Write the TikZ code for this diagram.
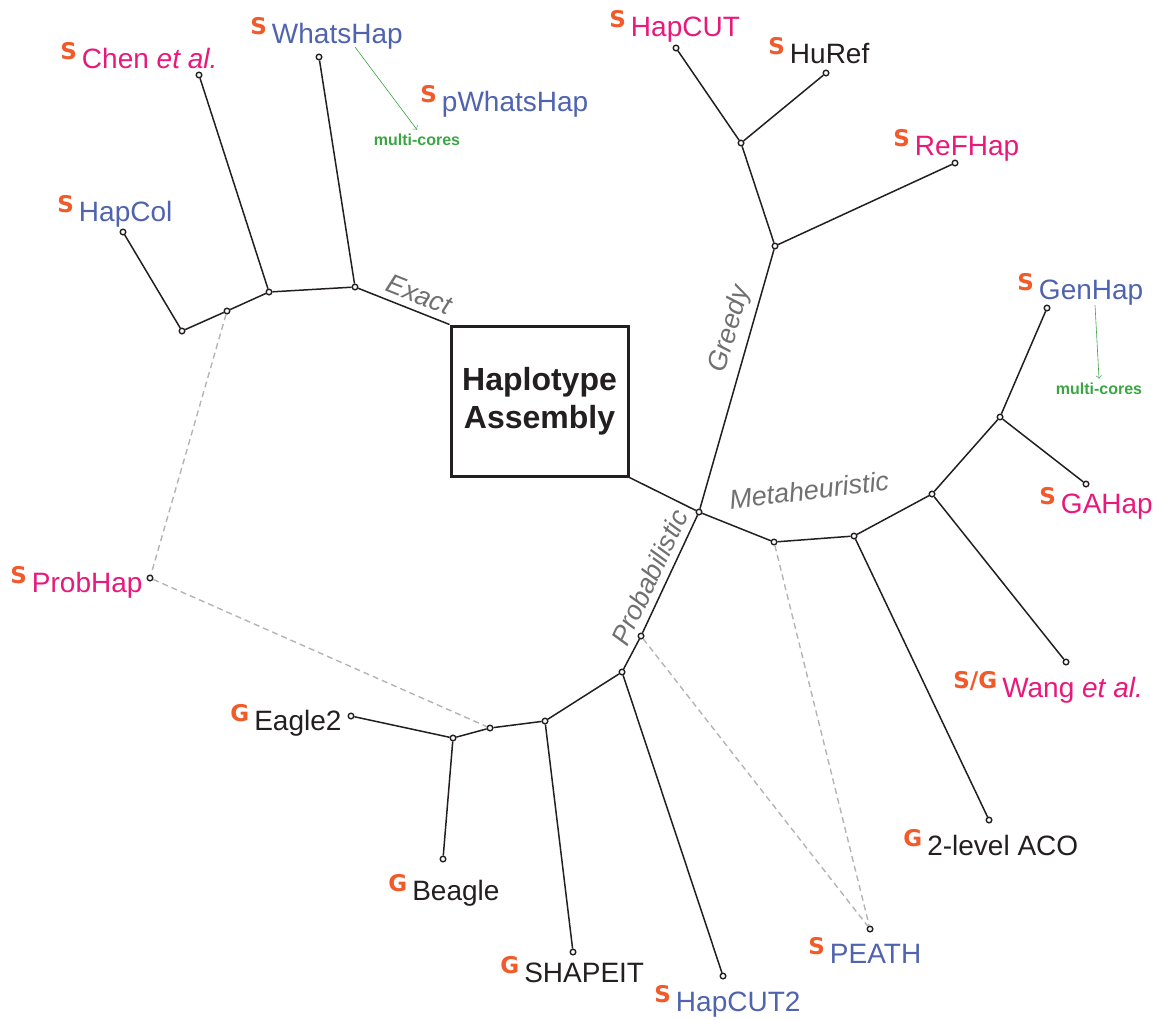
\documentclass[tikz,border=0pt]{standalone}
\usepackage{fontspec}
\setmainfont{Liberation Sans}
\newfontfamily\srcfont{DejaVu Sans}
\definecolor{srcorange}{HTML}{F15A29}
\definecolor{toolpink}{HTML}{E8197A}
\definecolor{toolblue}{HTML}{4F63AF}
\definecolor{toolblack}{HTML}{231F20}
\definecolor{methodgray}{HTML}{707070}
\definecolor{linkgray}{HTML}{B4B4B4}
\definecolor{coregreen}{HTML}{3BA544}
\newcommand{\srcmark}[1]{\raisebox{4.5pt}{\fontsize{11.5}{11.5}\selectfont\srcfont\bfseries\color{srcorange}#1}\hspace{2.5pt}}
\tikzset{
  junction/.style={circle, draw=toolblack, fill=white, inner sep=0pt, minimum size=2.8pt, line width=0.7pt},
  branch/.style={line width=0.75pt, toolblack},
  crosslink/.style={line width=0.7pt, linkgray, dash pattern=on 3pt off 2pt},
  toolname/.style={anchor=base west, inner sep=0pt, font=\fontsize{14}{16}\selectfont},
  methodfont/.style={font=\fontsize{13.5}{15}\selectfont\itshape, text=methodgray},
  methodlabel/.style={methodfont, sloped, above},
  cores/.style={font=\fontsize{8}{9}\selectfont\bfseries, text=coregreen, inner sep=2pt},
  corearrow/.style={->, coregreen, line width=0.3pt},
}
\begin{document}
\begin{tikzpicture}[x=0.5pt, y=-0.5pt]
\useasboundingbox (0,0) rectangle (1159,1019);
% root
\node[draw=toolblack, line width=1.5pt, minimum width=88.5pt, minimum height=75pt, align=center,
  font=\fontsize{16}{19}\selectfont\bfseries, text=toolblack] (root) at (539.5,401) {Haplotype\\Assembly};
% branch points
\node[junction] (c) at (699,512) {};
\node[junction] (e1) at (355,287) {};
\node[junction] (e2) at (269,292) {};
\node[junction] (e3) at (227,311) {};
\node[junction] (e4) at (182,331) {};
\node[junction] (g1) at (775,246) {};
\node[junction] (g2) at (741,143) {};
\node[junction] (m1) at (774,542) {};
\node[junction] (m2) at (854,536) {};
\node[junction] (m3) at (932,494) {};
\node[junction] (m4) at (1000,417) {};
\node[junction] (p1) at (641,636) {};
\node[junction] (p2) at (622,672) {};
\node[junction] (p3) at (545,721) {};
\node[junction] (p4) at (490,728) {};
\node[junction] (p5) at (453,738) {};
% leaves
\node[junction] (whatshap) at (319,57) {};
\node[junction] (chen) at (199,75) {};
\node[junction] (hapcol) at (123,232) {};
\node[junction] (probhap) at (150,578) {};
\node[junction] (hapcut) at (676,48) {};
\node[junction] (huref) at (826,73) {};
\node[junction] (refhap) at (955,163) {};
\node[junction] (genhap) at (1047,308) {};
\node[junction] (gahap) at (1086,484) {};
\node[junction] (wang) at (1066,662) {};
\node[junction] (aco) at (989,820) {};
\node[junction] (peath) at (870,929) {};
\node[junction] (hapcut2) at (723,976) {};
\node[junction] (shapeit) at (573,952) {};
\node[junction] (beagle) at (443,859) {};
\node[junction] (eagle) at (351,716) {};
% tool names
\node[toolname, text=toolpink] (chen-l) at (60,68) {\srcmark{S}Chen \textit{et al.}};
\node[toolname, text=toolblue] (whatshap-l) at (250,43) {\srcmark{S}WhatsHap};
\node[toolname, text=toolblue] (pwhatshap-l) at (420,111) {\srcmark{S}pWhatsHap};
\node[toolname, text=toolblue] (hapcol-l) at (57,221) {\srcmark{S}HapCol};
\node[toolname, text=toolpink] (probhap-l) at (10,592) {\srcmark{S}ProbHap};
\node[toolname, text=toolpink] (hapcut-l) at (609,36) {\srcmark{S}HapCUT};
\node[toolname, text=toolblack] (huref-l) at (768,63) {\srcmark{S}HuRef};
\node[toolname, text=toolpink] (refhap-l) at (893,155) {\srcmark{S}ReFHap};
\node[toolname, text=toolblue] (genhap-l) at (1017,299) {\srcmark{S}GenHap};
\node[toolname, text=toolpink] (gahap-l) at (1039,513) {\srcmark{S}GAHap};
\node[toolname, text=toolpink] (wang-l) at (953,697) {\srcmark{S/G}Wang \textit{et al.}};
\node[toolname, text=toolblack] (aco-l) at (903,855) {\srcmark{G}2-level ACO};
\node[toolname, text=toolblue] (peath-l) at (808,963) {\srcmark{S}PEATH};
\node[toolname, text=toolblue] (hapcut2-l) at (654,1011) {\srcmark{S}HapCUT2};
\node[toolname, text=toolblack] (shapeit-l) at (500,982) {\srcmark{G}SHAPEIT};
\node[toolname, text=toolblack] (beagle-l) at (388,900) {\srcmark{G}Beagle};
\node[toolname, text=toolblack] (eagle-l) at (230,730) {\srcmark{G}Eagle2};
% multi-cores notes
\node[cores] (mc1) at (417,140) {multi-cores};
\node[cores] (mc2) at (1099,389) {multi-cores};
\coordinate (wh-arrow) at (355,47);
\coordinate (gh-arrow) at (1095,305);
\draw[corearrow] (wh-arrow) -- (mc1.north);
\draw[corearrow] (gh-arrow) -- (mc2.north);
% exact
\draw[branch] (e1) -- node[methodlabel, pos=0.6] {Exact} (root.north west);
\draw[branch] (e1) -- (whatshap);
\draw[branch] (e1) -- (e2) -- (e3) -- (e4) -- (hapcol);
\draw[branch] (e2) -- (chen);
% greedy
\draw[branch] (root.south east) -- (c);
\draw[branch] (c) -- node[methodlabel, pos=0.67] {Greedy} (g1);
\draw[branch] (g1) -- (g2) -- (hapcut);
\draw[branch] (g2) -- (huref);
\draw[branch] (g1) -- (refhap);
% metaheuristic
\node[methodfont, rotate=7] (meta) at (809,490) {Metaheuristic};
\draw[branch] (c) -- (m1) -- (m2) -- (m3) -- (m4) -- (genhap);
\draw[branch] (m2) -- (aco);
\draw[branch] (m3) -- (wang);
\draw[branch] (m4) -- (gahap);
% probabilistic
\draw[branch] (p1) -- node[methodlabel, pos=0.41] {Probabilistic} (c);
\draw[branch] (p1) -- (p2) -- (hapcut2);
\draw[branch] (p2) -- (p3) -- (shapeit);
\draw[branch] (p3) -- (p4) -- (p5) -- (eagle);
\draw[branch] (p5) -- (beagle);
% dashed links
\draw[crosslink] (e3) -- (probhap) -- (p4);
\draw[crosslink] (p1) -- (peath);
\draw[crosslink] (m1) -- (peath);
\end{tikzpicture}
\end{document}
